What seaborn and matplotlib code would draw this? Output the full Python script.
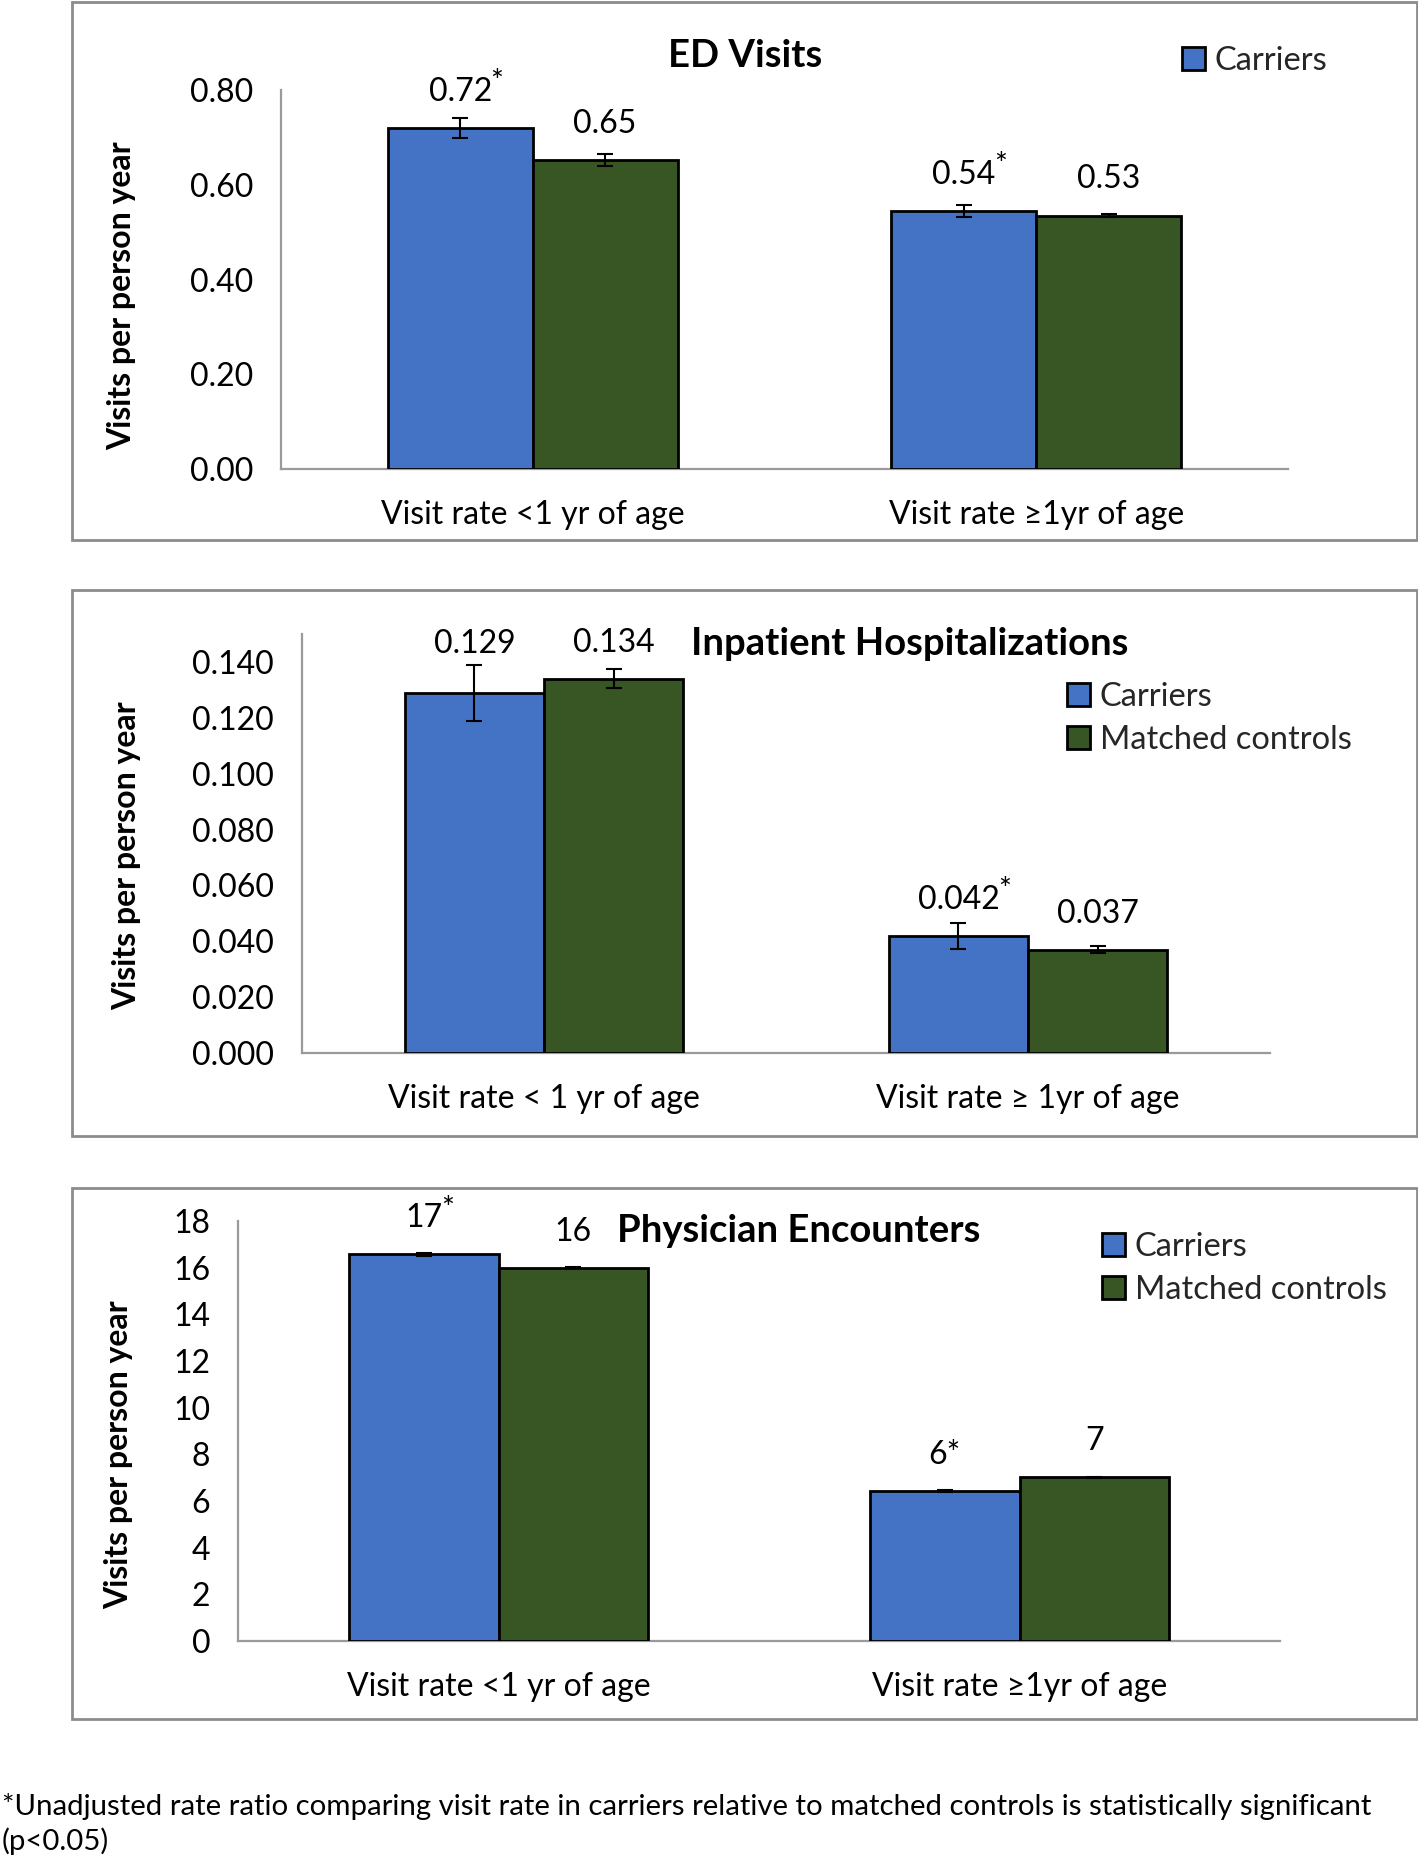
import matplotlib
matplotlib.use("Agg")
import matplotlib.pyplot as plt
import seaborn as sns
import pandas as pd
from matplotlib.patches import Rectangle
from matplotlib.ticker import FixedLocator

# ---------------- data ----------------
groups = ["Carriers", "Matched controls"]
cats_ed = ["Visit rate <1 yr of age", "Visit rate \u22651yr of age"]
ed_carriers = [0.72, 0.545]
ed_controls = [0.652, 0.535]
ed_err_carriers = [0.021, 0.0125]
ed_err_controls = [0.0125, 0.004]
ed_lbl_carriers = ["0.72", "0.54"]
ed_lbl_controls = ["0.65", "0.53"]
ed_sig_carriers = [True, True]
ed_ticks = [0.0, 0.2, 0.4, 0.6, 0.8]
ed_ticklabels = ["0.00", "0.20", "0.40", "0.60", "0.80"]

cats_ip = ["Visit rate < 1 yr of age", "Visit rate \u2265 1yr of age"]
ip_carriers = [0.129, 0.042]
ip_controls = [0.134, 0.037]
ip_err_carriers = [0.010, 0.0047]
ip_err_controls = [0.0035, 0.0012]
ip_lbl_carriers = ["0.129", "0.042"]
ip_lbl_controls = ["0.134", "0.037"]
ip_sig_carriers = [False, True]
ip_ticks = [0.0, 0.02, 0.04, 0.06, 0.08, 0.10, 0.12, 0.14]
ip_ticklabels = ["0.000", "0.020", "0.040", "0.060", "0.080", "0.100", "0.120", "0.140"]

cats_pe = ["Visit rate <1 yr of age", "Visit rate \u22651yr of age"]
pe_carriers = [16.57, 6.44]
pe_controls = [16.0, 7.02]
pe_err_carriers = [0.06, 0.05]
pe_err_controls = [0.03, 0.03]
pe_lbl_carriers = ["17", "6*"]
pe_lbl_controls = ["16", "7"]
pe_sig_carriers = [True, False]
pe_ticks = [0, 2, 4, 6, 8, 10, 12, 14, 16, 18]
pe_ticklabels = [str(t) for t in pe_ticks]

footnote = ("*Unadjusted rate ratio comparing visit rate in carriers relative to matched controls is statistically significant\n"
            "(p<0.05)")

# ---------------- style ----------------
sns.set_theme(style="white")
plt.rcParams["font.family"] = ["Lato", "DejaVu Sans"]

W, H = 1418, 1859
fig = plt.figure(figsize=(W / 100, H / 100), dpi=100)

BLUE = "#4472C4"
GREEN = "#375623"
AXGRAY = "#9a9a9a"
BOXGRAY = "#8c8c8c"

FS_TICK = 23
FS_XTICK = 23
FS_LBL = 23
FS_TITLE = 27.5
FS_LEG = 23.5
FS_YLAB = 23


def fx(px):
    return px / W


def fy(py):
    return 1 - py / H


def add_box(x0, y0, x1, y1):
    fig.patches.append(Rectangle((fx(x0), fy(y1)), fx(x1) - fx(x0), fy(y0) - fy(y1),
                                 transform=fig.transFigure, fill=False,
                                 edgecolor=BOXGRAY, linewidth=2, zorder=0))


def panel(ax_px, ylim, cats, carriers, controls, err_c, err_m, lbl_c, lbl_m, sig_c,
          ticks, ticklabels, title, title_xy, legend_n, legend_xy, ylabel_xy,
          label_extra=None):
    l, r, t, b = ax_px
    ax = fig.add_axes([fx(l), fy(b), fx(r) - fx(l), fy(t) - fy(b)])
    df = pd.DataFrame({
        "cat": cats * 2,
        "grp": [groups[0]] * len(cats) + [groups[1]] * len(cats),
        "val": list(carriers) + list(controls),
    })
    sns.barplot(data=df, x="cat", y="val", hue="grp", hue_order=groups,
                palette=[BLUE, GREEN], width=0.575, gap=0, errorbar=None,
                edgecolor="black", linewidth=2, saturation=1, ax=ax)
    leg = ax.get_legend()
    handles = list(leg.legend_handles)
    leg.remove()

    ax.set_xlim(-0.5, 1.5)
    ax.set_ylim(*ylim)
    ax.set_yticks(ticks)
    ax.set_yticklabels(ticklabels)
    ax.set_xlabel("")
    ax.set_ylabel("Visits per person year", fontsize=FS_YLAB, fontweight="bold",
                  color="black", va="center")
    ax.yaxis.set_label_coords((ylabel_xy[0] - l) / (r - l),
                              (b - ylabel_xy[1]) / (b - t))
    for s in ["top", "right"]:
        ax.spines[s].set_visible(False)
    for s in ["left", "bottom"]:
        ax.spines[s].set_color(AXGRAY)
        ax.spines[s].set_linewidth(1.6)
    ax.tick_params(axis="y", direction="out", length=6, width=1.6, color=AXGRAY,
                   labelsize=FS_TICK, pad=14, labelcolor="black")
    ax.tick_params(axis="x", which="major", length=0, labelsize=FS_XTICK, pad=22,
                   labelcolor="black")
    ax.xaxis.set_minor_locator(FixedLocator([-0.5, 0.5, 1.5]))
    ax.tick_params(axis="x", which="minor", direction="out", length=12,
                   width=1.6, color=AXGRAY)
    ax.spines["bottom"].set_zorder(0.5)

    bars = ax.patches[:len(cats) * 2]
    bars_c = sorted(bars[:len(cats)], key=lambda p: p.get_x())
    bars_m = sorted(bars[len(cats):], key=lambda p: p.get_x())
    xs_c = [p.get_x() + p.get_width() / 2 for p in bars_c]
    xs_m = [p.get_x() + p.get_width() / 2 for p in bars_m]
    ax.errorbar(xs_c, carriers, yerr=err_c, fmt="none", ecolor="black",
                elinewidth=1.5, capsize=6, capthick=1.5, zorder=5)
    ax.errorbar(xs_m, controls, yerr=err_m, fmt="none", ecolor="black",
                elinewidth=1.5, capsize=6, capthick=1.5, zorder=5)

    extra = label_extra or {}
    for i, (x, v, s) in enumerate(zip(xs_c, carriers, lbl_c)):
        off = extra.get(("c", i), 26)
        t_ = ax.annotate(s, (x, v), xytext=(0, off), textcoords="offset points",
                         ha="center", va="center", fontsize=FS_LBL, color="black")
        if sig_c[i]:
            ax.annotate("*", xy=(1.0, 1.0), xycoords=t_, xytext=(-1, 6),
                        textcoords="offset points", ha="left", va="top",
                        fontsize=22, color="black")
    for i, (x, v, s) in enumerate(zip(xs_m, controls, lbl_m)):
        off = extra.get(("m", i), 26)
        ax.annotate(s, (x, v), xytext=(0, off), textcoords="offset points",
                    ha="center", va="center", fontsize=FS_LBL, color="black")

    fig.text(fx(title_xy[0]), fy(title_xy[1]), title, fontsize=FS_TITLE,
             fontweight="bold", ha=title_xy[2], va="center", color="black")

    for h in handles:
        h.set_edgecolor("black")
        h.set_linewidth(2)
    fig.legend(handles[:legend_n], groups[:legend_n], loc="upper left",
               bbox_to_anchor=(fx(legend_xy[0]), fy(legend_xy[1])),
               frameon=False, fontsize=FS_LEG, handlelength=0.7, handleheight=0.7,
               handletextpad=0.3, borderpad=0, borderaxespad=0, labelspacing=0.4)
    return ax


# Panel 1: ED Visits
add_box(72, 2, 1417, 540)
panel((281, 1288, 90, 469), (0, 0.80), cats_ed, ed_carriers, ed_controls,
      ed_err_carriers, ed_err_controls, ed_lbl_carriers, ed_lbl_controls,
      ed_sig_carriers, ed_ticks, ed_ticklabels, "ED Visits", (745, 56, "center"),
      1, (1182, 46), (122, 296))

# Panel 2: Inpatient
add_box(72, 590, 1417, 1136)
panel((302, 1270, 634, 1053), (0, 0.15), cats_ip, ip_carriers, ip_controls,
      ip_err_carriers, ip_err_controls, ip_lbl_carriers, ip_lbl_controls,
      ip_sig_carriers, ip_ticks, ip_ticklabels, "Inpatient Hospitalizations",
      (691, 644, "left"), 2, (1067, 682), (127, 856),
      label_extra={("c", 0): 35})

# Panel 3: Physician
add_box(72, 1188, 1417, 1719)
panel((238, 1280, 1221, 1641), (0, 18), cats_pe, pe_carriers, pe_controls,
      pe_err_carriers, pe_err_controls, pe_lbl_carriers, pe_lbl_controls,
      pe_sig_carriers, pe_ticks, pe_ticklabels, "Physician Encounters",
      (617, 1231, "left"), 2, (1102, 1232), (119, 1455))

fig.text(fx(2), fy(1824), footnote, fontsize=21.2, ha="left", va="center",
         linespacing=1.3, color="black")

fig.savefig("out.png", dpi=100)
